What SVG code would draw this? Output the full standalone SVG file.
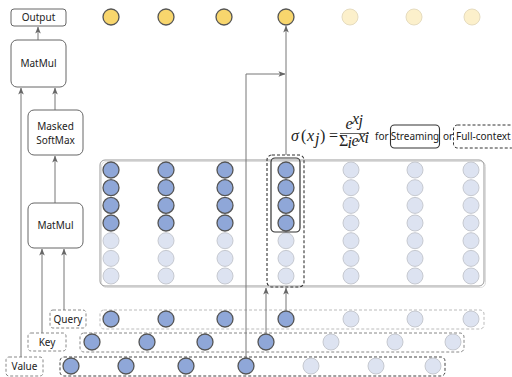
<svg xmlns="http://www.w3.org/2000/svg" width="512" height="377" viewBox="0 0 512 377">
<defs>
<marker id="ah" viewBox="0 0 8 8" refX="7.5" refY="4" markerWidth="7" markerHeight="7" markerUnits="userSpaceOnUse" orient="auto">
<path d="M0,0.8 L8,4 L0,7.2 L2,4 z" fill="#666"/>
</marker>
<style>
text{font-family:"Noto Sans","Open Sans","DejaVu Sans",sans-serif;font-size:10px;fill:#222}
.op{fill:#fff;stroke:#666;stroke-width:1}
.lbl{fill:#fff;stroke:#888;stroke-width:1;stroke-dasharray:3,2}
.conn{fill:none;stroke:#777;stroke-width:1}
.b{fill:#8fa7d8;stroke:#555;stroke-width:1.3}
.p{fill:#dde3f1;stroke:#c6c9d0;stroke-width:1}
.y{fill:#f8d66d;stroke:#555;stroke-width:1.3}
.py{fill:#fcf0cb;stroke:#e6dcbf;stroke-width:1}
.math{font-family:"Liberation Serif","DejaVu Serif",serif;font-style:italic;font-size:16px}
.up{font-family:"Liberation Serif","DejaVu Serif",serif;font-style:normal;font-size:16px}
</style>
</defs>

<g id="attention-matrix">
<rect x="101.5" y="161.5" width="384" height="126" rx="5" fill="none" stroke="#ddd" stroke-width="1"/>
<rect x="100" y="160" width="384" height="126" rx="5" fill="none" stroke="#999" stroke-width="1"/>
<g>
<circle class="b" cx="111" cy="170" r="8"/><circle class="b" cx="111" cy="187.7" r="8"/><circle class="b" cx="111" cy="205.4" r="8"/><circle class="b" cx="111" cy="223" r="8"/>
<circle class="p" cx="111" cy="240.7" r="8"/><circle class="p" cx="111" cy="258.4" r="8"/><circle class="p" cx="111" cy="276" r="8"/>
<circle class="b" cx="166" cy="170" r="8"/><circle class="b" cx="166" cy="187.7" r="8"/><circle class="b" cx="166" cy="205.4" r="8"/><circle class="b" cx="166" cy="223" r="8"/>
<circle class="p" cx="166" cy="240.7" r="8"/><circle class="p" cx="166" cy="258.4" r="8"/><circle class="p" cx="166" cy="276" r="8"/>
<circle class="b" cx="225" cy="170" r="8"/><circle class="b" cx="225" cy="187.7" r="8"/><circle class="b" cx="225" cy="205.4" r="8"/><circle class="b" cx="225" cy="223" r="8"/>
<circle class="p" cx="225" cy="240.7" r="8"/><circle class="p" cx="225" cy="258.4" r="8"/><circle class="p" cx="225" cy="276" r="8"/>
<circle class="b" cx="286" cy="170" r="8"/><circle class="b" cx="286" cy="187.7" r="8"/><circle class="b" cx="286" cy="205.4" r="8"/><circle class="b" cx="286" cy="223" r="8"/>
<circle class="p" cx="286" cy="240.7" r="8"/><circle class="p" cx="286" cy="258.4" r="8"/><circle class="p" cx="286" cy="276" r="8"/>
<circle class="p" cx="351" cy="170" r="8"/><circle class="p" cx="351" cy="187.7" r="8"/><circle class="p" cx="351" cy="205.4" r="8"/><circle class="p" cx="351" cy="223" r="8"/>
<circle class="p" cx="351" cy="240.7" r="8"/><circle class="p" cx="351" cy="258.4" r="8"/><circle class="p" cx="351" cy="276" r="8"/>
<circle class="p" cx="415" cy="170" r="8"/><circle class="p" cx="415" cy="187.7" r="8"/><circle class="p" cx="415" cy="205.4" r="8"/><circle class="p" cx="415" cy="223" r="8"/>
<circle class="p" cx="415" cy="240.7" r="8"/><circle class="p" cx="415" cy="258.4" r="8"/><circle class="p" cx="415" cy="276" r="8"/>
<circle class="p" cx="471" cy="170" r="8"/><circle class="p" cx="471" cy="187.7" r="8"/><circle class="p" cx="471" cy="205.4" r="8"/><circle class="p" cx="471" cy="223" r="8"/>
<circle class="p" cx="471" cy="240.7" r="8"/><circle class="p" cx="471" cy="258.4" r="8"/><circle class="p" cx="471" cy="276" r="8"/>
</g>
<rect x="271" y="158" width="29" height="74" rx="4" fill="none" stroke="#333" stroke-width="1.2"/>
<rect x="267" y="155" width="37" height="132" rx="5" fill="none" stroke="#333" stroke-width="1.1" stroke-dasharray="3,2"/>
</g>

<g id="query">
<rect class="lbl" x="50" y="310" width="36" height="18" rx="3" stroke="#aaa"/>
<text x="68" y="323" text-anchor="middle">Query</text>
<rect x="100" y="310" width="384" height="19" rx="4" fill="none" stroke="#bbb" stroke-width="1" stroke-dasharray="3,2"/>
<circle class="b" cx="111" cy="319" r="8"/><circle class="b" cx="166" cy="319" r="8"/><circle class="b" cx="225" cy="319" r="8"/><circle class="b" cx="286" cy="319" r="8"/>
<circle class="p" cx="351" cy="319" r="8"/><circle class="p" cx="415" cy="319" r="8"/><circle class="p" cx="471" cy="319" r="8"/>
</g>

<g id="key">
<rect class="lbl" x="28" y="333" width="38" height="18" rx="3"/>
<text x="47" y="346" text-anchor="middle">Key</text>
<rect x="80" y="333" width="384" height="19" rx="4" fill="none" stroke="#888" stroke-width="1" stroke-dasharray="3,2"/>
<circle class="b" cx="92" cy="342" r="8"/><circle class="b" cx="147" cy="342" r="8"/><circle class="b" cx="205" cy="342" r="8"/><circle class="b" cx="266" cy="342" r="8"/>
<circle class="p" cx="331" cy="342" r="8"/><circle class="p" cx="395" cy="342" r="8"/><circle class="p" cx="453" cy="342" r="8"/>
</g>

<g id="value">
<rect class="lbl" x="6" y="357" width="37" height="19" rx="3" stroke="#444"/>
<text x="24.5" y="370" text-anchor="middle">Value</text>
<rect x="60" y="357" width="385" height="19" rx="4" fill="none" stroke="#444" stroke-width="1" stroke-dasharray="3,2"/>
<circle class="b" cx="71" cy="366" r="8"/><circle class="b" cx="126" cy="366" r="8"/><circle class="b" cx="186" cy="366" r="8"/>
<circle class="p" cx="311" cy="366" r="8"/><circle class="p" cx="376" cy="366" r="8"/><circle class="p" cx="433" cy="366" r="8"/>
</g>

<g id="connectors">
<line class="conn" x1="38" y1="40" x2="38" y2="27" marker-end="url(#ah)"/>
<line class="conn" x1="55" y1="110" x2="55" y2="88" marker-end="url(#ah)"/>
<line class="conn" x1="21" y1="357" x2="21" y2="88" marker-end="url(#ah)"/>
<line class="conn" x1="55" y1="203" x2="55" y2="156" marker-end="url(#ah)"/>
<line class="conn" x1="42" y1="333" x2="42" y2="249" marker-end="url(#ah)"/>
<line class="conn" x1="64" y1="310" x2="64" y2="249" marker-end="url(#ah)"/>
<line class="conn" x1="286" y1="155" x2="286" y2="26" marker-end="url(#ah)"/>
<polyline class="conn" points="246,358 246,74 285,74" marker-end="url(#ah)"/>
<line class="conn" x1="266" y1="334" x2="266" y2="288" marker-end="url(#ah)"/>
<line class="conn" x1="286" y1="311" x2="286" y2="288" marker-end="url(#ah)"/>
</g>

<g id="value-token-4">
<circle class="b" cx="246" cy="366" r="8"/>
</g>

<g id="output">
<rect class="op" x="11" y="9" width="55" height="17" rx="3"/>
<text x="38.5" y="21" text-anchor="middle">Output</text>
</g>
<g id="output-tokens">
<circle class="y" cx="111" cy="17" r="8"/>
<circle class="y" cx="166" cy="17" r="8"/>
<circle class="y" cx="224" cy="17" r="8"/>
<circle class="y" cx="286" cy="17" r="8"/>
<circle class="py" cx="350" cy="17" r="8"/>
<circle class="py" cx="414" cy="17" r="8"/>
<circle class="py" cx="472" cy="17" r="8"/>
</g>

<g id="matmul-top">
<rect class="op" x="11" y="40" width="55" height="47" rx="6"/>
<text x="38.5" y="67" text-anchor="middle">MatMul</text>
</g>
<g id="softmax">
<rect class="op" x="28" y="110" width="55" height="45" rx="6"/>
<text x="55.5" y="130" text-anchor="middle">Masked</text>
<text x="55.5" y="144" text-anchor="middle">SoftMax</text>
</g>
<g id="matmul-bottom">
<rect class="op" x="28" y="203" width="55" height="45" rx="6"/>
<text x="55.5" y="229" text-anchor="middle">MatMul</text>
</g>

<g id="formula">
<text class="math" x="291" y="141">σ</text>
<text class="up" x="301" y="141">(</text>
<text class="math" x="307" y="141">x</text>
<text class="math" x="315" y="144" font-size="11">j</text>
<text class="up" x="320" y="141">)</text>
<text class="up" x="329" y="141">=</text>
<text class="math" x="345.5" y="129" font-size="12">e</text>
<text class="math" x="352" y="123.5" font-size="9">x</text>
<text class="math" x="358.5" y="125.5" font-size="7">j</text>
<line x1="340" y1="133.5" x2="369" y2="133.5" stroke="#222" stroke-width="0.7"/>
<text class="up" x="339" y="146" font-size="12">Σ</text>
<text class="math" x="347.5" y="148" font-size="8">i</text>
<text class="math" x="351.5" y="146" font-size="12">e</text>
<text class="math" x="358" y="141.5" font-size="9">x</text>
<text class="math" x="364.5" y="143" font-size="7">i</text>
<text x="375" y="140">for</text>
<rect x="390.5" y="125" width="49" height="23" rx="4" fill="none" stroke="#333" stroke-width="1.1"/>
<text x="415" y="140" text-anchor="middle">Streaming</text>
<text x="443" y="140">or</text>
<rect x="453.5" y="125" width="62" height="23" rx="4" fill="none" stroke="#333" stroke-width="1" stroke-dasharray="3,2"/>
<text x="456" y="140">Full-context</text>
</g>
</svg>
